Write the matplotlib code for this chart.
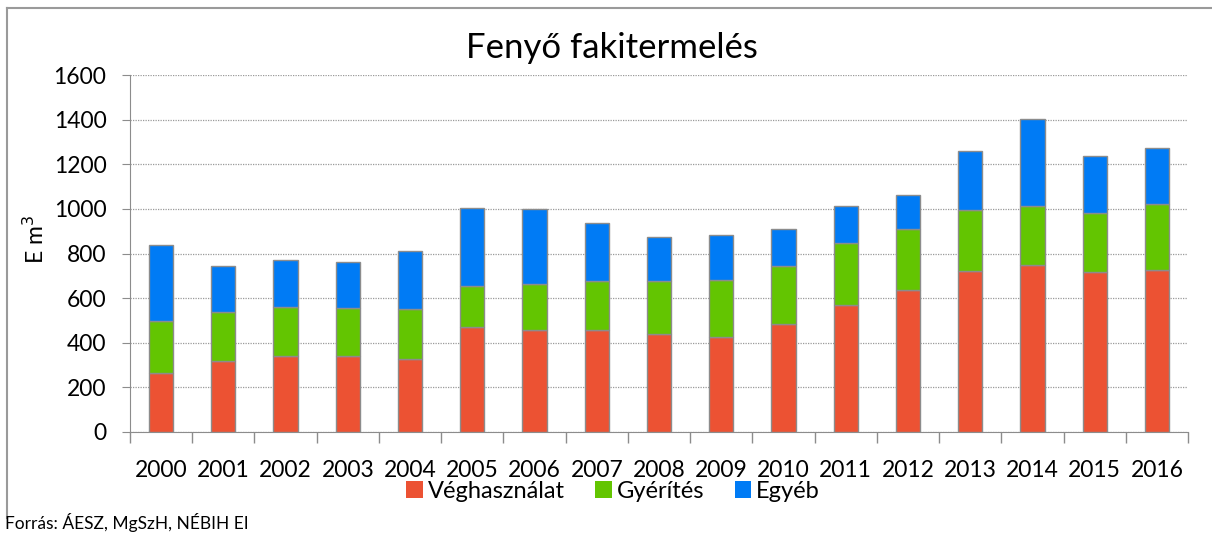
import matplotlib
matplotlib.use("Agg")
import matplotlib.pyplot as plt
from matplotlib.lines import Line2D
import numpy as np

years = [str(y) for y in range(2000, 2017)]
veghasznalat = [266, 317, 339, 342, 327, 470, 456, 456, 438, 425, 486, 571, 637, 722, 748, 716, 727]
gyerites = [232, 221, 222, 213, 225, 183, 206, 220, 238, 258, 260, 275, 275, 271, 267, 266, 293]
egyeb = [342, 204, 212, 209, 258, 352, 338, 260, 200, 202, 162, 168, 151, 268, 386, 255, 254]

RED = "#EC5233"; GREEN = "#63C501"; BLUE = "#007BF5"; EDGE = "#8C8C8C"
W, H = 1212, 534

plt.rcParams["font.family"] = ["Lato", "DejaVu Sans"]
fig = plt.figure(figsize=(W / 100, H / 100), dpi=100)
ax = fig.add_axes([130/W, 102/H, 1058/W, 357/H])

x = np.arange(len(years))
v = np.array(veghasznalat); g = np.array(gyerites); e = np.array(egyeb)
w = 0.39
ax.bar(x, v, w, color=RED, edgecolor=EDGE, lw=1, label="Véghasználat", zorder=3)
ax.bar(x, g, w, bottom=v, color=GREEN, edgecolor=EDGE, lw=1, label="Gyérítés", zorder=3)
ax.bar(x, e, w, bottom=v + g, color=BLUE, edgecolor=EDGE, lw=1, label="Egyéb", zorder=3)

ax.set_xlim(-0.5, len(years) - 0.5)
ax.set_ylim(0, 1600)
ax.set_yticks(range(0, 1601, 200))
ax.yaxis.grid(True, ls=(0, (1, 1)), color="#9A9A9A", lw=0.9, zorder=0)
ax.set_xticks(x)
ax.set_xticklabels(years)
ax.set_xticks(np.arange(-0.5, len(years), 1), minor=True)
ax.tick_params(axis="x", which="major", length=0, pad=20, labelsize=16.5)
ax.tick_params(axis="x", which="minor", length=8, color=EDGE, width=1)
ax.tick_params(axis="y", length=6, color=EDGE, labelsize=16.5, pad=11)
for sp in ["top", "right"]:
    ax.spines[sp].set_visible(False)
for sp in ["left", "bottom"]:
    ax.spines[sp].set_color(EDGE)
ax.set_ylabel("E m$^3$", fontsize=16.5)
ax.yaxis.set_label_coords(-0.078, 0.54)

fig.text(612/W, 1 - 48/H, "Fenyő fakitermelés", fontsize=25, ha="center", va="center")

leg = fig.legend(loc="center", bbox_to_anchor=(613/W, 1 - 491/H), ncol=3, frameon=False,
                 fontsize=17, handlelength=0.7, handleheight=0.7, handletextpad=0.2,
                 columnspacing=1.3, borderaxespad=0, borderpad=0)
for h in leg.legend_handles:
    h.set_edgecolor("none")

fig.text(5/W, 1 - 522/H, "Forrás: ÁESZ, MgSzH, NÉBIH EI", fontsize=12.5, va="center", ha="left")
# chart frame: only top and left edges are visible in the original
fig.add_artist(Line2D([7/W, 1], [1 - 8/H, 1 - 8/H], transform=fig.transFigure, color="#9A9A9A", lw=1.5))
fig.add_artist(Line2D([7/W, 7/W], [1 - 8/H, 1 - 518/H], transform=fig.transFigure, color="#9A9A9A", lw=1.5))
fig.savefig("out.png", dpi=100)
